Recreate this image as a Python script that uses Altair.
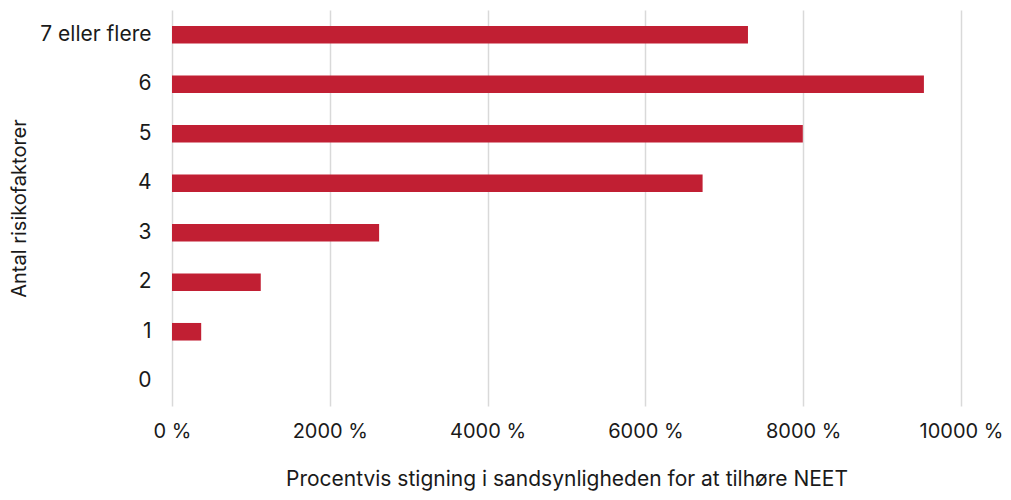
import altair as alt
import pandas as pd

categories = ["7 eller flere", "6", "5", "4", "3", "2", "1", "0"]
values = [7300, 9530, 7995, 6725, 2625, 1125, 370, 0]
x_ticks = [0, 2000, 4000, 6000, 8000, 10000]

df = pd.DataFrame({"kat": categories, "val": values})

font = "Inter"
txt = "#1a1a1a"

chart = alt.Chart(df).mark_bar(color="#C11F33").encode(
    x=alt.X(
        "val:Q",
        scale=alt.Scale(domain=[0, 10000], nice=False),
        axis=alt.Axis(
            values=x_ticks,
            labelExpr="format(datum.value, 'd') + ' %'",
            title="Procentvis stigning i sandsynligheden for at tilhøre NEET",
            grid=True,
            gridColor="#d9d9d9",
            gridWidth=1.5,
            ticks=False,
            domain=False,
            labelFlush=False,
            labelOverlap=False,
            labelPadding=15,
            titlePadding=27,
            labelFontSize=20,
            titleFontSize=21,
            titleFontWeight="normal",
            labelColor=txt,
            titleColor=txt,
            labelFont=font,
            titleFont=font,
        ),
    ),
    y=alt.Y(
        "kat:N",
        sort=categories,
        scale=alt.Scale(paddingInner=0.645, paddingOuter=0.3225),
        axis=alt.Axis(
            title="Antal risikofaktorer",
            ticks=False,
            domain=False,
            grid=False,
            labelPadding=21,
            titlePadding=10,
            labelFontSize=21,
            titleFontSize=20,
            titleFontWeight="normal",
            labelColor=txt,
            titleColor=txt,
            labelFont=font,
            titleFont=font,
        ),
    ),
).properties(
    width=789,
    height=396,
    autosize=alt.AutoSizeParams(type="none"),
    padding={"left": 164, "top": 2, "right": 42, "bottom": 86},
).configure_view(stroke=None)

chart.save("out.html", embed_options={"renderer": "svg", "actions": False})
